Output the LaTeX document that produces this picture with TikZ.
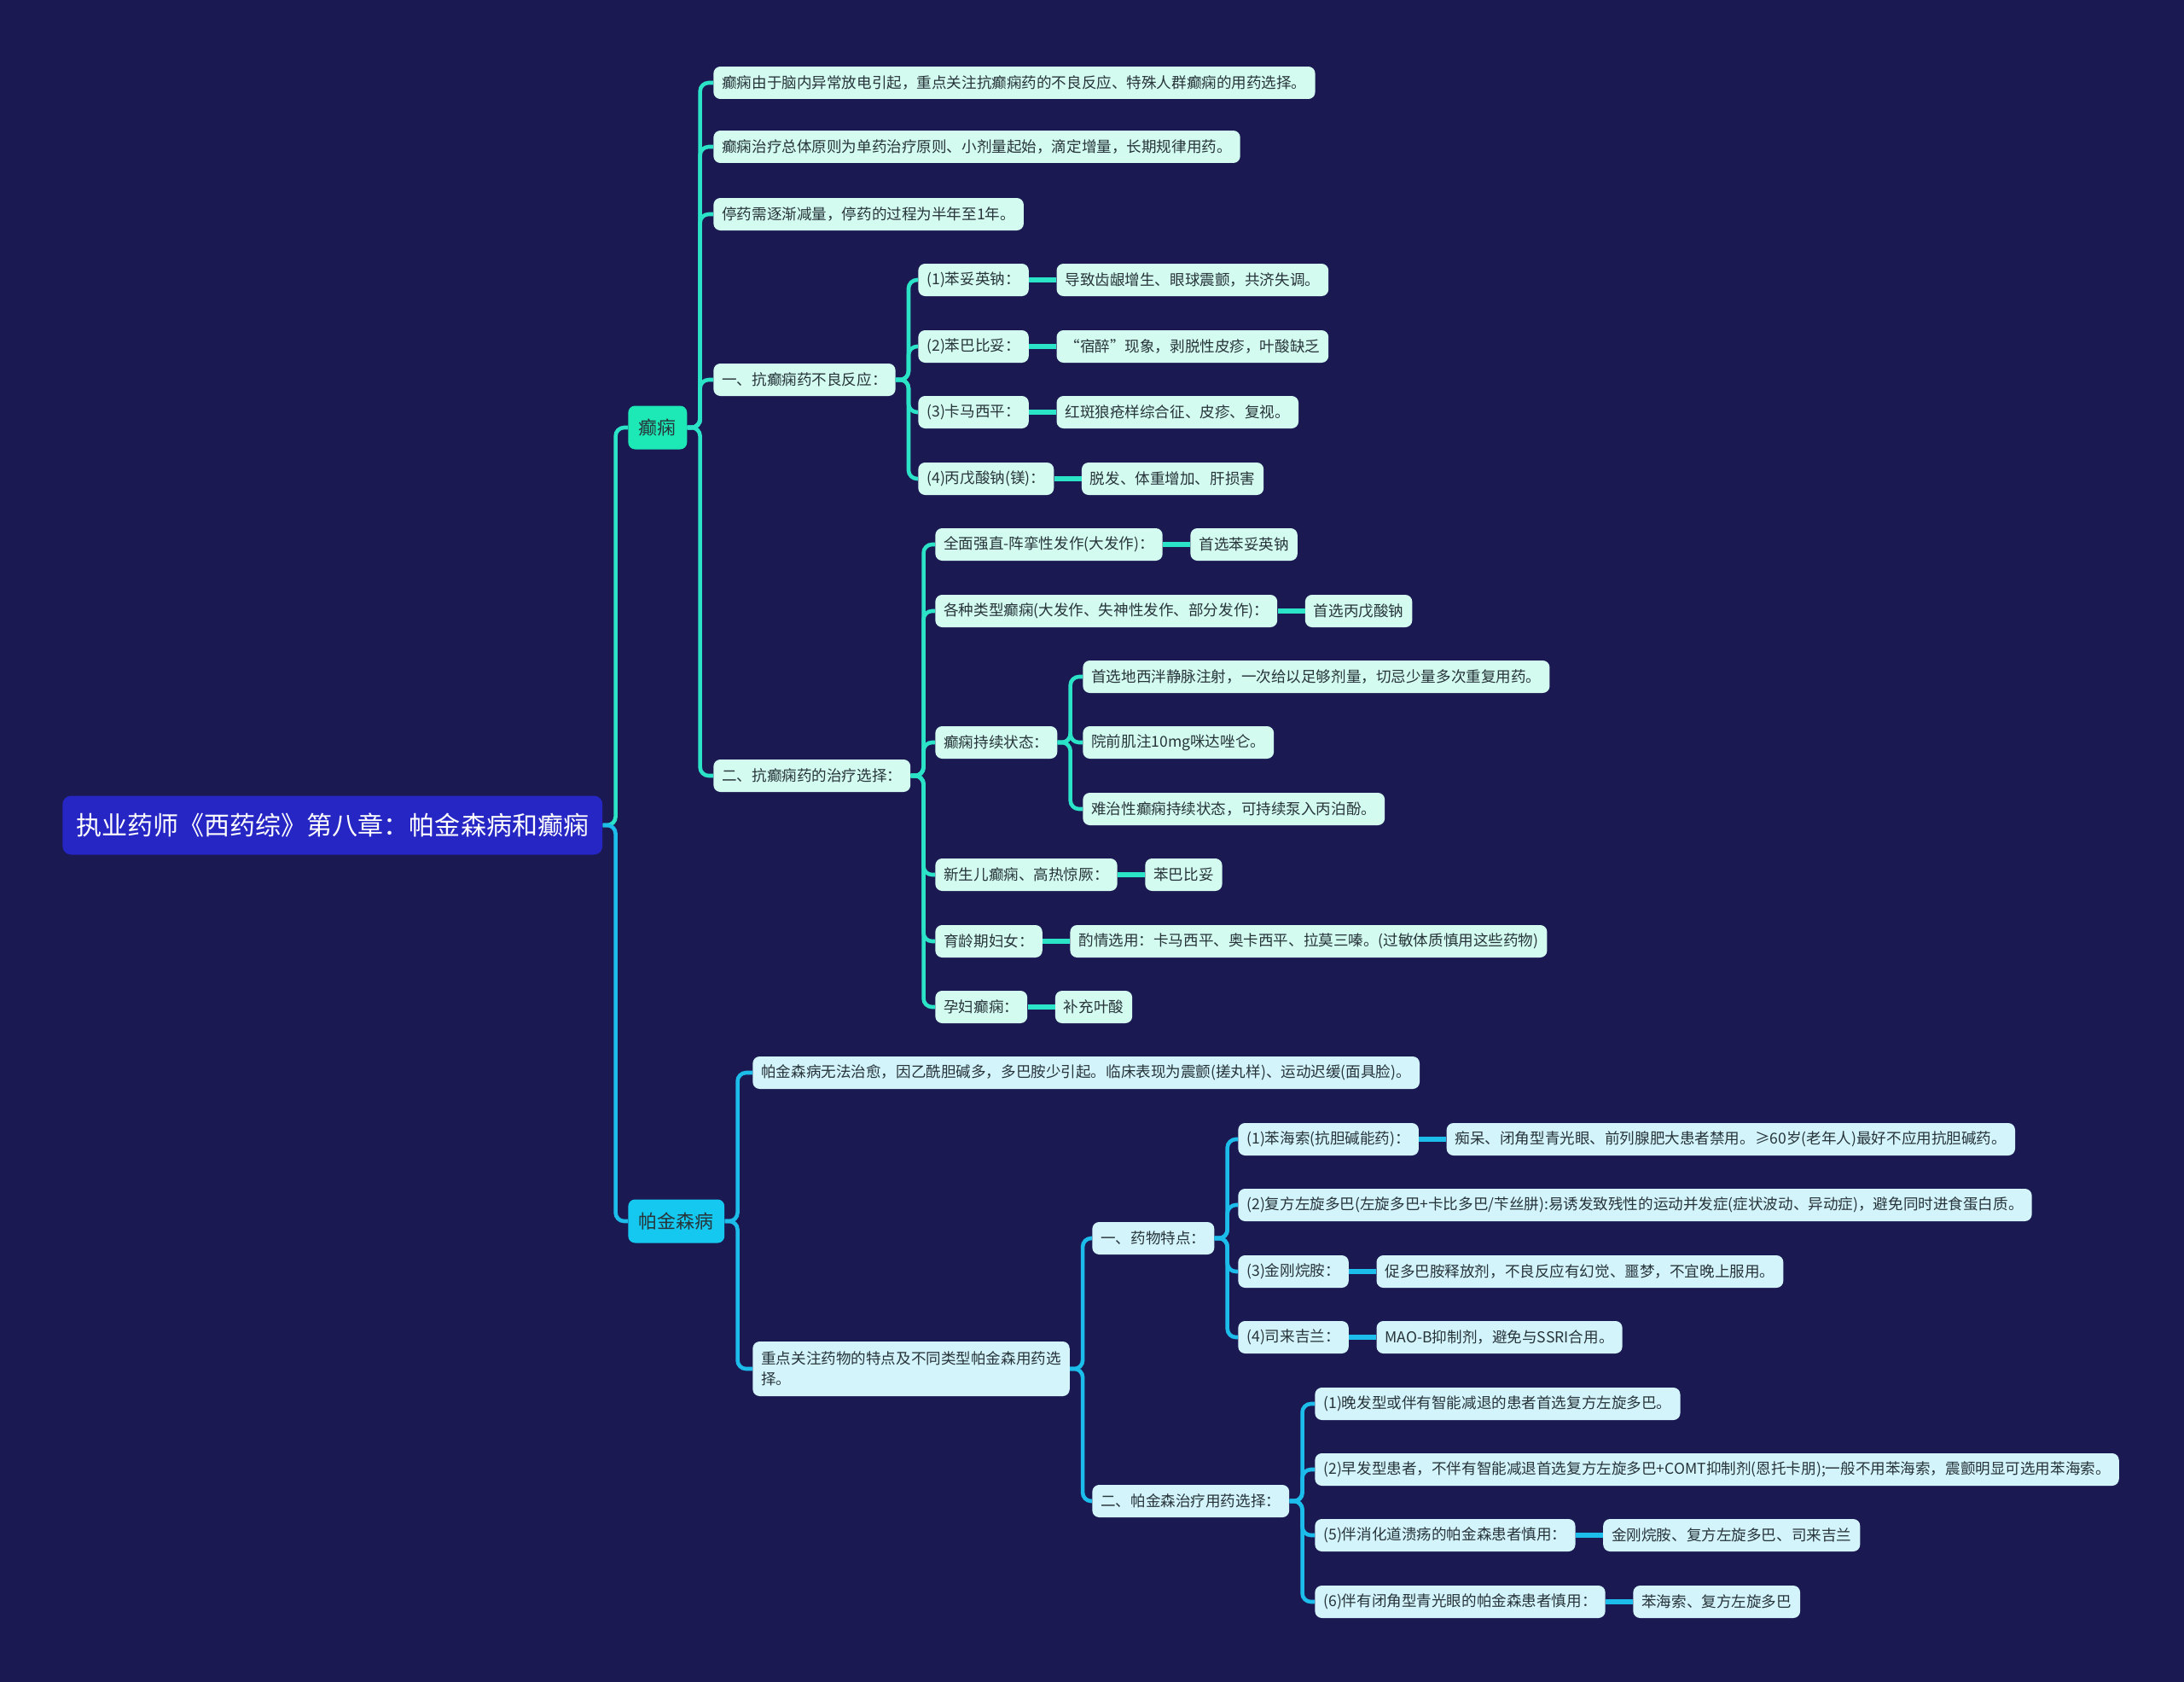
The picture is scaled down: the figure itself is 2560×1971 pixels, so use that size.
\documentclass[tikz,border=0pt]{standalone}
\usepackage{fontspec}
\setmainfont{Noto Sans CJK SC}
\usepackage{xcolor}
\definecolor{bgNavy}{HTML}{1B1952}
\definecolor{rootBlue}{HTML}{2626C4}
\definecolor{epiTeal}{HTML}{1DE9B6}
\definecolor{epiLine}{HTML}{2BE3C6}
\definecolor{epiFill}{HTML}{D3FBF0}
\definecolor{pdCyan}{HTML}{14C8F0}
\definecolor{pdLine}{HTML}{1CBDEB}
\definecolor{pdFill}{HTML}{D3F4FB}
\definecolor{inkText}{HTML}{27343A}
\usetikzlibrary{positioning}

\tikzset{
  box/.style={rounded corners=0.16cm, inner xsep=0.2cm, inner ysep=0pt,
    minimum height=0.76cm, anchor=west, text=inkText,
    font=\fontsize{10pt}{13.8pt}\selectfont},
  epiBox/.style={box, fill=epiFill},
  pdBox/.style={box, fill=pdFill},
  topicBox/.style={rounded corners=0.16cm, inner xsep=0.25cm, inner ysep=0pt,
    minimum height=1.02cm, anchor=west, text=inkText,
    font=\fontsize{12.5pt}{15pt}\selectfont},
  rootBox/.style={rounded corners=0.2cm, inner xsep=0.32cm, inner ysep=0pt,
    minimum height=1.38cm, anchor=west, fill=rootBlue, text=white,
    font=\fontsize{17.1pt}{20pt}\selectfont},
  epiLink/.style={draw=epiLine, line width=2.6pt, rounded corners=0.2cm},
  pdLink/.style={draw=pdLine, line width=2.6pt, rounded corners=0.2cm},
  epiLeafLink/.style={draw=epiLine, line width=3.8pt},
  pdLeafLink/.style={draw=pdLine, line width=3.8pt},
}

\begin{document}
\begin{tikzpicture}[x=0.02cm, y=-0.02cm]
  \useasboundingbox[fill=bgNavy] (0,0) rectangle (2560,1971);

  \node[rootBox] (root) at (73,967) {执业药师《西药综》第八章：帕金森病和癫痫};
  \node[topicBox, fill=epiTeal] (epi) at (736,501) {癫痫};
  \node[topicBox, fill=pdCyan] (pd) at (736,1431) {帕金森病};

  \node[epiBox] (e1) at (836,97) {癫痫由于脑内异常放电引起，重点关注抗癫痫药的不良反应、特殊人群癫痫的用药选择。};
  \node[epiBox] (e2) at (836,172) {癫痫治疗总体原则为单药治疗原则、小剂量起始，滴定增量，长期规律用药。};
  \node[epiBox] (e3) at (836,251) {停药需逐渐减量，停药的过程为半年至1年。};
  \node[epiBox] (e4) at (836,445) {一、抗癫痫药不良反应：};
  \node[epiBox] (e5) at (836,909) {二、抗癫痫药的治疗选择：};

  \node[epiBox] (a1) at (1076,328) {(1)苯妥英钠：};
  \node[epiBox, right=0.64cm of a1] (a1l) {导致齿龈增生、眼球震颤，共济失调。};
  \node[epiBox] (a2) at (1076,406) {(2)苯巴比妥：};
  \node[epiBox, right=0.64cm of a2] (a2l) {“宿醉”现象，剥脱性皮疹，叶酸缺乏};
  \node[epiBox] (a3) at (1076,483) {(3)卡马西平：};
  \node[epiBox, right=0.64cm of a3] (a3l) {红斑狼疮样综合征、皮疹、复视。};
  \node[epiBox] (a4) at (1076,561) {(4)丙戊酸钠(镁)：};
  \node[epiBox, right=0.64cm of a4] (a4l) {脱发、体重增加、肝损害};

  \node[epiBox] (t1) at (1096,638) {全面强直-阵挛性发作(大发作)：};
  \node[epiBox, right=0.64cm of t1] (t1l) {首选苯妥英钠};
  \node[epiBox] (t2) at (1096,716) {各种类型癫痫(大发作、失神性发作、部分发作)：};
  \node[epiBox, right=0.64cm of t2] (t2l) {首选丙戊酸钠};
  \node[epiBox] (t3) at (1096,870) {癫痫持续状态：};
  \node[epiBox] (s1) at (1269,793) {首选地西泮静脉注射，一次给以足够剂量，切忌少量多次重复用药。};
  \node[epiBox] (s2) at (1269,870) {院前肌注10mg咪达唑仑。};
  \node[epiBox] (s3) at (1269,948) {难治性癫痫持续状态，可持续泵入丙泊酚。};
  \node[epiBox] (t4) at (1096,1025) {新生儿癫痫、高热惊厥：};
  \node[epiBox, right=0.64cm of t4] (t4l) {苯巴比妥};
  \node[epiBox] (t5) at (1096,1103) {育龄期妇女：};
  \node[epiBox, right=0.64cm of t5] (t5l) {酌情选用：卡马西平、奥卡西平、拉莫三嗪。(过敏体质慎用这些药物)};
  \node[epiBox] (t6) at (1096,1180) {孕妇癫痫：};
  \node[epiBox, right=0.64cm of t6] (t6l) {补充叶酸};

  \node[pdBox] (p1) at (882,1257) {帕金森病无法治愈，因乙酰胆碱多，多巴胺少引起。临床表现为震颤(搓丸样)、运动迟缓(面具脸)。};
  \node[pdBox, minimum height=1.28cm, align=left] (p2) at (882,1604) {重点关注药物的特点及不同类型帕金森用药选\\择。};

  \node[pdBox] (q1) at (1280,1451) {一、药物特点：};
  \node[pdBox] (q2) at (1280,1759) {二、帕金森治疗用药选择：};

  \node[pdBox] (d1) at (1451,1335) {(1)苯海索(抗胆碱能药)：};
  \node[pdBox, right=0.64cm of d1] (d1l) {痴呆、闭角型青光眼、前列腺肥大患者禁用。≥60岁(老年人)最好不应用抗胆碱药。};
  \node[pdBox] (d2) at (1451,1412) {(2)复方左旋多巴(左旋多巴+卡比多巴/苄丝肼):易诱发致残性的运动并发症(症状波动、异动症)，避免同时进食蛋白质。};
  \node[pdBox] (d3) at (1451,1490) {(3)金刚烷胺：};
  \node[pdBox, right=0.64cm of d3] (d3l) {促多巴胺释放剂，不良反应有幻觉、噩梦，不宜晚上服用。};
  \node[pdBox] (d4) at (1451,1567) {(4)司来吉兰：};
  \node[pdBox, right=0.64cm of d4] (d4l) {MAO-B抑制剂，避免与SSRI合用。};

  \node[pdBox] (c1) at (1541,1645) {(1)晚发型或伴有智能减退的患者首选复方左旋多巴。};
  \node[pdBox] (c2) at (1541,1722) {(2)早发型患者，不伴有智能减退首选复方左旋多巴+COMT抑制剂(恩托卡朋);一般不用苯海索，震颤明显可选用苯海索。};
  \node[pdBox] (c3) at (1541,1799) {(5)伴消化道溃疡的帕金森患者慎用：};
  \node[pdBox, right=0.64cm of c3] (c3l) {金刚烷胺、复方左旋多巴、司来吉兰};
  \node[pdBox] (c4) at (1541,1877) {(6)伴有闭角型青光眼的帕金森患者慎用：};
  \node[pdBox, right=0.64cm of c4] (c4l) {苯海索、复方左旋多巴};

  % branches
  \draw[epiLink] (root.east) -- ++(0.3cm,0) |- (epi.west);
  \draw[pdLink] (root.east) -- ++(0.3cm,0) |- (pd.west);
  \foreach \c in {e1,e2,e3,e4,e5}
    \draw[epiLink] (epi.east) -- ++(0.3cm,0) |- (\c.west);
  \foreach \c in {a1,a2,a3,a4}
    \draw[epiLink] (e4.east) -- ++(0.3cm,0) |- (\c.west);
  \foreach \c in {t1,t2,t3,t4,t5,t6}
    \draw[epiLink] (e5.east) -- ++(0.3cm,0) |- (\c.west);
  \foreach \c in {s1,s2,s3}
    \draw[epiLink] (t3.east) -- ++(0.3cm,0) |- (\c.west);
  \foreach \c in {a1,a2,a3,a4,t1,t2,t4,t5,t6}
    \draw[epiLeafLink] (\c.east) -- (\c l.west);

  \foreach \c in {p1,p2}
    \draw[pdLink] (pd.east) -- ++(0.3cm,0) |- (\c.west);
  \foreach \c in {q1,q2}
    \draw[pdLink] (p2.east) -- ++(0.3cm,0) |- (\c.west);
  \foreach \c in {d1,d2,d3,d4}
    \draw[pdLink] (q1.east) -- ++(0.3cm,0) |- (\c.west);
  \foreach \c in {c1,c2,c3,c4}
    \draw[pdLink] (q2.east) -- ++(0.3cm,0) |- (\c.west);
  \foreach \c in {d1,d3,d4,c3,c4}
    \draw[pdLeafLink] (\c.east) -- (\c l.west);
\end{tikzpicture}
\end{document}
